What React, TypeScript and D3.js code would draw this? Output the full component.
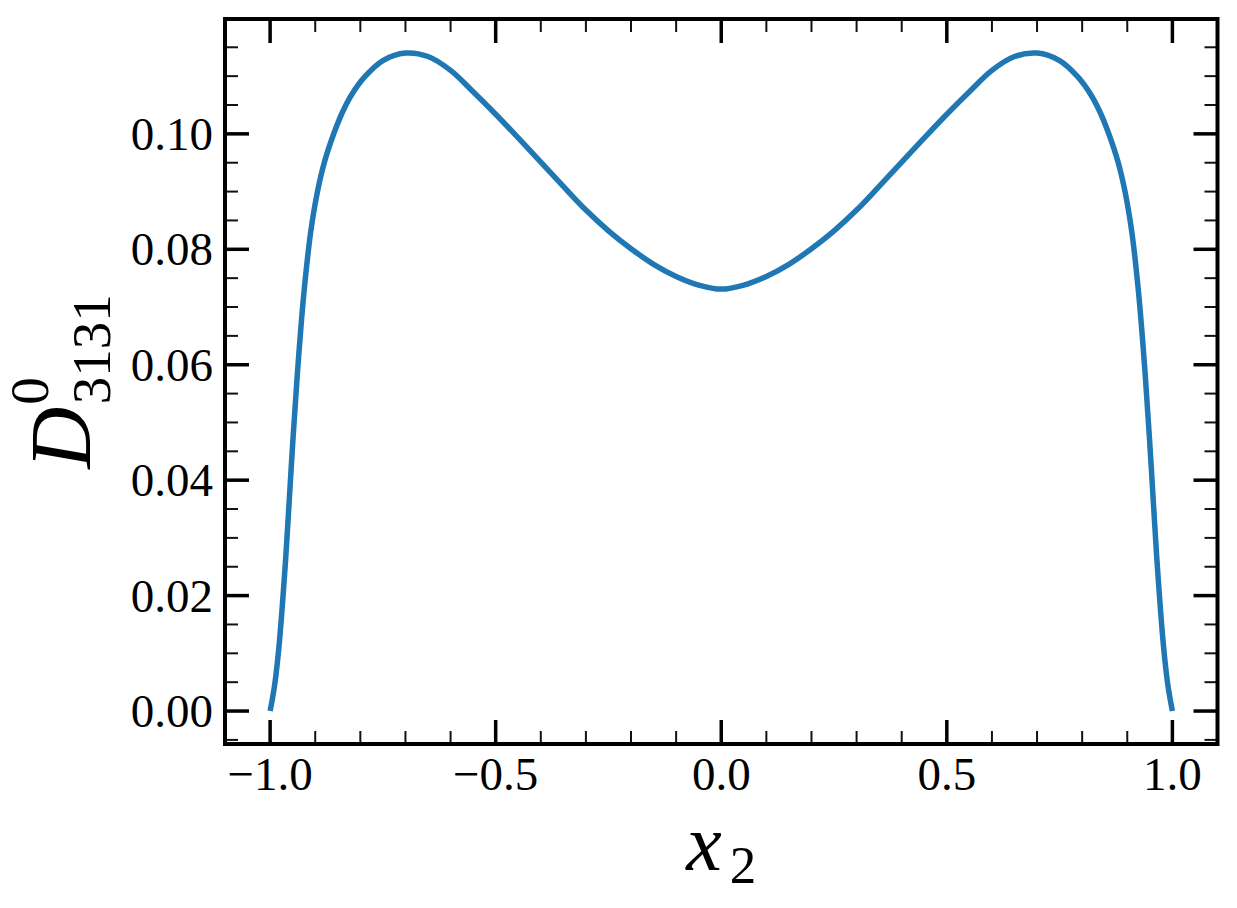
import React from 'react';
import * as d3 from 'd3';

// curve (x2, D^0_3131)
const xs = [
  -1.0, -0.99, -0.98, -0.965, -0.953, -0.94, -0.925, -0.91, -0.895, -0.88, -0.86, -0.84, -0.82,
  -0.79, -0.75, -0.7, -0.65, -0.6, -0.55, -0.5, -0.45, -0.4, -0.35, -0.3, -0.25, -0.2, -0.15,
  -0.1, -0.05, 0.0, 0.05, 0.1, 0.15, 0.2, 0.25, 0.3, 0.35, 0.4, 0.45, 0.5, 0.55, 0.6, 0.65, 0.7,
  0.75, 0.79, 0.82, 0.84, 0.86, 0.88, 0.895, 0.91, 0.925, 0.94, 0.953, 0.965, 0.98, 0.99, 1.0,
];
const values = [
  0.0, 0.0045, 0.0115, 0.027, 0.0425, 0.058, 0.0725, 0.083, 0.09, 0.095, 0.0998, 0.1037, 0.1067,
  0.1099, 0.1127, 0.114, 0.1134, 0.111, 0.1073, 0.1034, 0.0993, 0.0951, 0.0909, 0.0868, 0.0832,
  0.0801, 0.0774, 0.0753, 0.0738, 0.0731, 0.0738, 0.0753, 0.0774, 0.0801, 0.0832, 0.0868, 0.0909,
  0.0951, 0.0993, 0.1034, 0.1073, 0.111, 0.1134, 0.114, 0.1127, 0.1099, 0.1067, 0.1037, 0.0998,
  0.095, 0.09, 0.083, 0.0725, 0.058, 0.0425, 0.027, 0.0115, 0.0045, 0.0,
];

const xMajor = [-1.0, -0.5, 0.0, 0.5, 1.0];
const xMajorLabels = ['\u22121.0', '\u22120.5', '0.0', '0.5', '1.0'];
const xMinor = [-1.0, -0.9, -0.8, -0.7, -0.6, -0.5, -0.4, -0.3, -0.2, -0.1, 0.0, 0.1, 0.2, 0.3, 0.4, 0.5, 0.6, 0.7, 0.8, 0.9, 1.0];
const yMajor = [0.0, 0.02, 0.04, 0.06, 0.08, 0.1];
const yMajorLabels = ['0.00', '0.02', '0.04', '0.06', '0.08', '0.10'];
const yMinor = [
  -0.005, 0.0, 0.005, 0.01, 0.015, 0.02, 0.025, 0.03, 0.035, 0.04, 0.045, 0.05, 0.055, 0.06,
  0.065, 0.07, 0.075, 0.08, 0.085, 0.09, 0.095, 0.1, 0.105, 0.11, 0.115,
];

const W = 1237;
const H = 908;
const left = 225;
const right = 1217.5;
const top = 19;
const bottom = 744;

const serif = '"Liberation Serif", "Times New Roman", serif';

export default function App() {
  const x = d3.scaleLinear().domain([-1.1, 1.1]).range([left, right]);
  const y = d3.scaleLinear().domain([-0.00571, 0.1199]).range([bottom, top]);

  const data = xs.map((v, i) => [v, values[i]] as [number, number]);
  const line = d3
    .line<[number, number]>()
    .x(d => x(d[0]))
    .y(d => y(d[1]))
    .curve(d3.curveCatmullRom.alpha(0.5));

  const majLen = 24;
  const minLen = 13;
  const minorX = xMinor.filter(v => !xMajor.includes(v));
  const minorY = yMinor.filter(v => !yMajor.some(m => Math.abs(m - v) < 1e-9));

  return (
    <svg
      width={W}
      height={H}
      style={{ position: 'absolute', left: 0, top: 0, background: '#fff' }}
      fontFamily={serif}
    >
      <defs>
        <clipPath id="plot">
          <rect x={left} y={top} width={right - left} height={bottom - top} />
        </clipPath>
      </defs>

      <path
        d={line(data) ?? ''}
        fill="none"
        stroke="#1f77b4"
        strokeWidth={5.5}
        clipPath="url(#plot)"
      />

      {/* minor ticks, all four sides, pointing in */}
      <g stroke="#111" strokeWidth={2}>
        {minorX.map(v => (
          <g key={'mx' + v}>
            <line x1={x(v)} x2={x(v)} y1={bottom} y2={bottom - minLen} />
            <line x1={x(v)} x2={x(v)} y1={top} y2={top + minLen} />
          </g>
        ))}
        {minorY.map(v => (
          <g key={'my' + v}>
            <line x1={left} x2={left + minLen} y1={y(v)} y2={y(v)} />
            <line x1={right} x2={right - minLen} y1={y(v)} y2={y(v)} />
          </g>
        ))}
      </g>

      {/* major ticks */}
      <g stroke="#000" strokeWidth={3.5}>
        {xMajor.map(v => (
          <g key={'Mx' + v}>
            <line x1={x(v)} x2={x(v)} y1={bottom} y2={bottom - majLen} />
            <line x1={x(v)} x2={x(v)} y1={top} y2={top + majLen} />
          </g>
        ))}
        {yMajor.map(v => (
          <g key={'My' + v}>
            <line x1={left} x2={left + majLen} y1={y(v)} y2={y(v)} />
            <line x1={right} x2={right - majLen} y1={y(v)} y2={y(v)} />
          </g>
        ))}
      </g>

      <rect
        x={left}
        y={top}
        width={right - left}
        height={bottom - top}
        fill="none"
        stroke="#000"
        strokeWidth={4}
      />

      {/* tick labels */}
      <g fontSize={47} fill="#000">
        {xMajor.map((v, i) => (
          <text key={'lx' + v} x={x(v)} y={790} textAnchor="middle">
            {xMajorLabels[i]}
          </text>
        ))}
        {yMajor.map((v, i) => (
          <text key={'ly' + v} x={213} y={y(v) + 16} textAnchor="end">
            {yMajorLabels[i]}
          </text>
        ))}
      </g>

      {/* axis labels */}
      <text x={(left + right) / 2} y={870} textAnchor="middle" fill="#000">
        <tspan fontStyle="italic" fontSize={80}>x</tspan>
        <tspan fontSize={53} dx={8} dy={13}>2</tspan>
      </text>

      <text
        transform={`translate(90, ${(top + bottom) / 2}) rotate(-90)`}
        textAnchor="middle"
        fill="#000"
      >
        <tspan fontStyle="italic" fontSize={86}>D</tspan>
        <tspan fontSize={55} dx={2} dy={-42}>0</tspan>
        <tspan fontSize={55} dx={-27} dy={62}>3131</tspan>
      </text>
    </svg>
  );
}
